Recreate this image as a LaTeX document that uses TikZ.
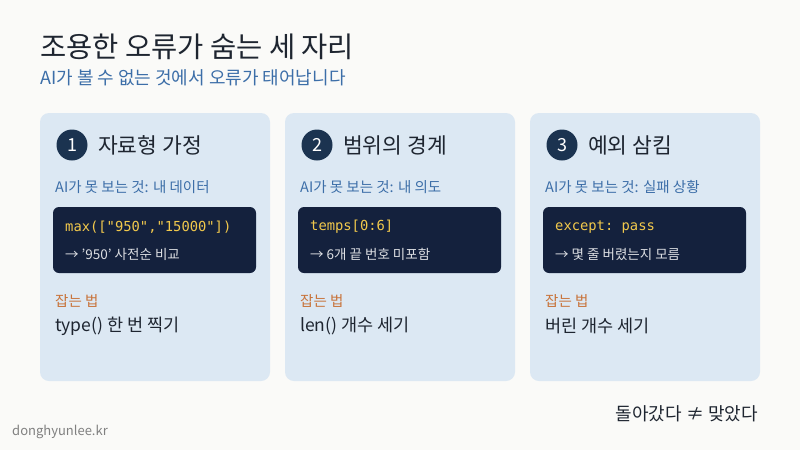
\documentclass[tikz,border=0pt]{standalone}
\usepackage{fontspec}
\setmainfont{Noto Sans CJK KR}
\setmonofont{DejaVu Sans Mono}
\usetikzlibrary{positioning}
\definecolor{bgpaper}{HTML}{FAFAF8}
\definecolor{cardfill}{HTML}{DCE8F3}
\definecolor{navy}{HTML}{1B3350}
\definecolor{codebg}{HTML}{14213D}
\definecolor{codeyel}{HTML}{F2C94C}
\definecolor{subblue}{HTML}{3C6EA8}
\definecolor{fixorange}{HTML}{C8733A}
\definecolor{inktext}{HTML}{1E2530}

\begin{document}
\begin{tikzpicture}[x=1pt,y=-1pt,
    card/.style={fill=cardfill,rounded corners=9pt},
    code/.style={fill=codebg,rounded corners=6pt},
    badge/.style={circle,fill=navy,minimum size=31pt,inner sep=0pt,text=white,font=\fontsize{18}{18}\selectfont},
    head/.style={anchor=west,inner sep=0pt,text=inktext,font=\fontsize{21.5}{21.5}\selectfont},
    seen/.style={anchor=west,inner sep=0pt,text=subblue,font=\fontsize{14.5}{14.5}\selectfont},
    snippet/.style={anchor=west,inner sep=0pt,text=codeyel,font=\ttfamily\fontsize{13.8}{13.8}\selectfont},
    result/.style={anchor=west,inner sep=0pt,text=white!85!codebg,font=\fontsize{13.5}{13.5}\selectfont},
    fixlbl/.style={anchor=west,inner sep=0pt,text=fixorange,font=\fontsize{14.5}{14.5}\selectfont},
    fix/.style={anchor=west,inner sep=0pt,text=inktext,font=\fontsize{17.5}{17.5}\selectfont}]
    \fill[bgpaper] (0,0) rectangle (800,450);
    \useasboundingbox (0,0) rectangle (800,450);
    \node[anchor=west,inner sep=0pt,text=inktext,font=\fontsize{28.5}{28.5}\selectfont] (title) at (40,47) {조용한 오류가 숨는 세 자리};
    \node[anchor=west,inner sep=0pt,text=subblue,font=\fontsize{18}{18}\selectfont] (subtitle) at (40,78) {AI가 볼 수 없는 것에서 오류가 태어납니다};
    \foreach \i/\x/\hd/\sn/\cd/\rs/\fx in {
        1/40/자료형 가정/내 데이터/{max(["950","15000"])}/{→ '950' 사전순 비교}/{type() 한 번 찍기},
        2/285/범위의 경계/내 의도/{temps[0:6]}/{→ 6개 끝 번호 미포함}/{len() 개수 세기},
        3/530/예외 삼킴/실패 상황/{except: pass}/{→ 몇 줄 버렸는지 모름}/{버린 개수 세기}} {
        \fill[card] (\x,113) rectangle ++(230,268);
        \node[badge] (n\i) at (\x+32,145) {\i};
        \node[head] (h\i) at (\x+58,145) {\hd};
        \node[seen] (s\i) at (\x+15,187) {AI가 못 보는 것: \sn};
        \fill[code] (\x+13,207) rectangle ++(203,66);
        \node[snippet] (c\i) at (\x+25,227) {\cd};
        \node[result] (r\i) at (\x+25,254) {\rs};
        \node[fixlbl] (l\i) at (\x+15,301) {잡는 법};
        \node[fix] (f\i) at (\x+15,326) {\fx};
    }
    \node[anchor=east,inner sep=0pt,text=inktext,font=\fontsize{18}{18}\selectfont] (motto) at (758,414) {돌아갔다 ≠ 맞았다};
    \node[anchor=west,inner sep=0pt,text=gray,font=\fontsize{13}{13}\selectfont] (site) at (12,432) {donghyunlee.kr};
\end{tikzpicture}
\end{document}
